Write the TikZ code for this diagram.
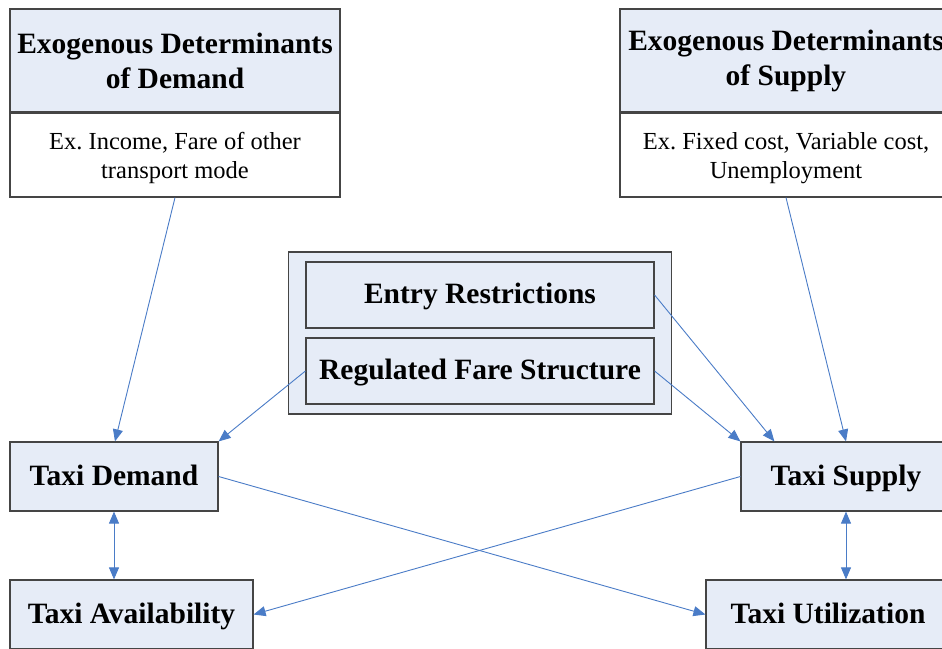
\documentclass[tikz,border=0pt]{standalone}
\usepackage{fontspec}
\setmainfont{Liberation Serif}
\frenchspacing
\usetikzlibrary{arrows.meta,calc}
\definecolor{boxfill}{HTML}{E6ECF7}
\definecolor{linkblue}{HTML}{4A7CC7}
\definecolor{frame}{HTML}{454545}
\tikzset{
  box/.style={draw=frame, line width=1.2pt, fill=boxfill, inner sep=0pt, align=center,
    font=\fontsize{29.5}{35}\selectfont\bfseries},
  onerow/.style={box, text height=20pt, text depth=3pt},
  plainbox/.style={draw=frame, line width=1.2pt, fill=white, inner sep=0pt},
  plaintext/.style={inner sep=0pt, align=center, font=\fontsize{24.5}{29}\selectfont},
  link/.style={draw=linkblue, line width=0.9pt, -{Triangle[length=12pt,width=10pt]}},
  twoway/.style={draw=linkblue, line width=0.9pt, {Triangle[length=12pt,width=10pt]}-{Triangle[length=12pt,width=10pt]}}
}
\begin{document}
\begin{tikzpicture}[x=1pt,y=-1pt]
\clip (0,0) rectangle (942,648);
\fill[white] (0,0) rectangle (942,648);

% exogenous determinants of demand
\node[box, minimum width=330, minimum height=103] (dhead) at (175,60.5) {Exogenous Determinants\\of Demand};
\node[plainbox, minimum width=330, minimum height=84] (dbody) at (175,155) {};
\node[plaintext] (dtext) at (175,158) {Ex. Income, Fare of other\\transport mode};

% exogenous determinants of supply
\node[box, minimum width=332, minimum height=103] (shead) at (786,60.5) {Exogenous Determinants\\of Supply};
\node[plainbox, minimum width=332, minimum height=84] (sbody) at (786,155) {};
\node[plaintext] (stext) at (786,158) {Ex. Fixed cost, Variable cost,\\Unemployment};

% regulation group
\node[box, minimum width=383, minimum height=162] (grp) at (480,333) {};
\node[onerow, minimum width=348, minimum height=66] (entry) at (480,295) {Entry Restrictions};
\node[onerow, minimum width=348, minimum height=66] (fare) at (480,371) {Regulated Fare Structure};

% taxi market boxes
\node[onerow, minimum width=208, minimum height=69] (demand) at (114,476.5) {Taxi Demand};
\node[onerow, minimum width=210, minimum height=69] (supply) at (846,476.5) {Taxi Supply};
\node[onerow, minimum width=243, minimum height=69] (avail) at (131.5,614.5) {Taxi Availability};
\node[onerow, minimum width=244, minimum height=69] (util) at (828,614.5) {Taxi Utilization};

\coordinate (dIn) at ([xshift=1pt]demand.north);
\coordinate (sInA) at ([xshift=34pt]supply.north west);

% connectors
\draw[link] (dbody.south) -- (dIn);
\draw[link] (fare.west) -- (demand.north east);
\draw[link] (entry.east) -- (sInA);
\draw[link] (fare.east) -- (supply.north west);
\draw[link] (sbody.south) -- (supply.north);
\draw[link] (demand.east) -- (util.west);
\draw[link] (supply.west) -- (avail.east);
\draw[twoway] (demand.south) -- (demand.south |- avail.north);
\draw[twoway] (supply.south) -- (supply.south |- util.north);
\end{tikzpicture}
\end{document}
